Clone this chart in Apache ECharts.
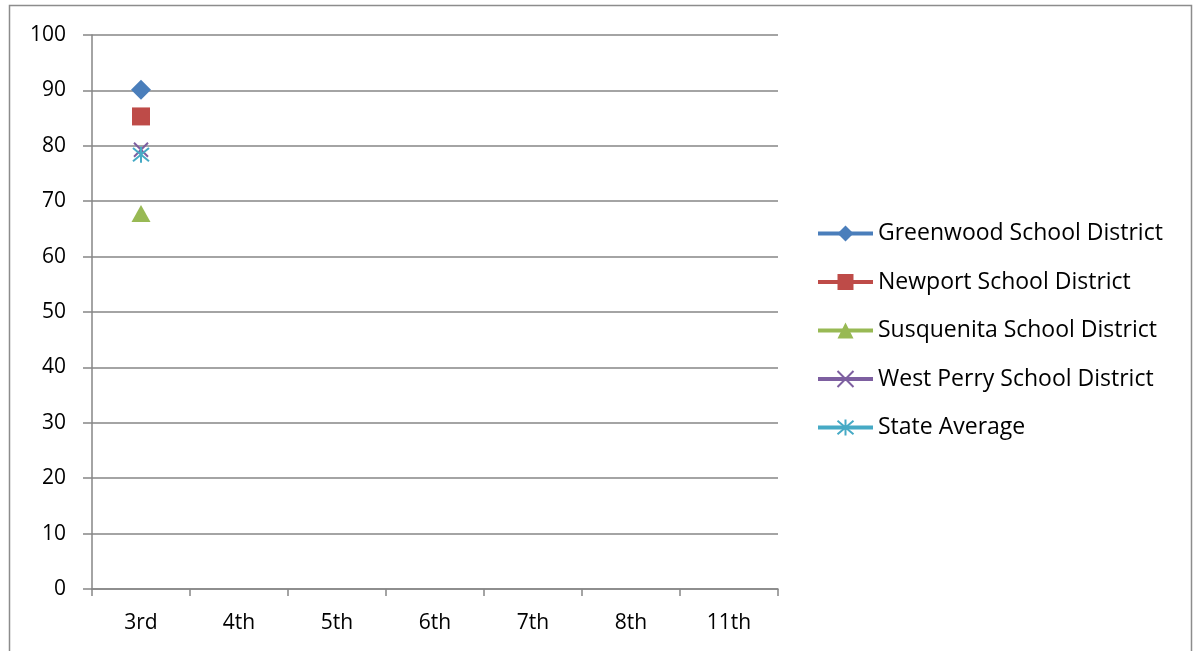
<!DOCTYPE html>
<html><head><meta charset="utf-8">
<script src="https://cdn.jsdelivr.net/npm/echarts@6/dist/echarts.min.js"></script>
<style>html,body{margin:0;padding:0;background:#fff}#c{width:1196px;height:651px}</style>
</head><body><div id="c"></div>
<script>
var categories = ['3rd','4th','5th','6th','7th','8th','11th'];
var seriesNames = ['Greenwood School District','Newport School District','Susquenita School District','West Perry School District','State Average'];
var greenwood = [90.1, null, null, null, null, null, null];
var newport = [85.3, null, null, null, null, null, null];
var susquenita = [67.8, null, null, null, null, null, null];
var westPerry = [79.3, null, null, null, null, null, null];
var stateAverage = [78.4, null, null, null, null, null, null];
var yTicks = {min: 0, max: 100, interval: 10};

var colors = ['#4A7EBB','#BE4B48','#98B954','#7D5FA0','#46AAC5'];
var symbols = ['diamond','rect','triangle','path://M0,0L10,10M10,0L0,10','path://M0,0L10,10M10,0L0,10M5,-1L5,11'];
var sizes = [[20,20],[18,18],[19,17],[14,14],[16,16]];
var allData = [greenwood, newport, susquenita, westPerry, stateAverage];
var font = 'Open Sans';

var series = allData.map(function(d, i){
  var isLine = i >= 3;
  return {
    name: seriesNames[i], type: 'line', data: d,
    symbol: symbols[i], symbolSize: sizes[i], showSymbol: true,
    lineStyle: {color: colors[i], width: 4},
    itemStyle: {color: isLine ? 'rgba(0,0,0,0)' : colors[i], borderColor: colors[i], borderWidth: isLine ? 2 : 0},
    emphasis: {disabled: true}, animation: false
  };
});

var chart = echarts.init(document.getElementById('c'));
chart.setOption({
  animation: false,
  graphic: [{type:'rect', shape:{x:9.5,y:5.5,width:1182,height:700}, style:{fill:'none', stroke:'#8c8c8c', lineWidth:1.5}, z:-1}],
  grid: {left: 92, right: 418, top: 35, bottom: 62},
  legend: {
    orient: 'vertical', left: 816, top: 222, padding: 0, itemGap: 25.5, itemWidth: 55, itemHeight: 20,
    lineStyle: {width: 4},
    textStyle: {fontFamily: font, fontSize: 23, color: '#000'},
    data: seriesNames
  },
  xAxis: {
    type: 'category', data: categories, boundaryGap: true,
    axisLine: {lineStyle: {color: '#868686', width: 1.5}},
    axisTick: {show: true, length: 7, lineStyle: {color: '#868686', width: 1.5}},
    axisLabel: {fontFamily: font, fontSize: 21, color: '#000', margin: 24},
    splitLine: {show: false}
  },
  yAxis: {
    type: 'value', min: yTicks.min, max: yTicks.max, interval: yTicks.interval,
    axisLine: {show: true, lineStyle: {color: '#868686', width: 1.5}},
    axisTick: {show: true, length: 9, lineStyle: {color: '#868686', width: 1.5}},
    axisLabel: {fontFamily: font, fontSize: 21, color: '#000', margin: 26},
    splitLine: {show: true, lineStyle: {color: '#868686', width: 1.5}}
  },
  series: series
});
</script></body></html>
